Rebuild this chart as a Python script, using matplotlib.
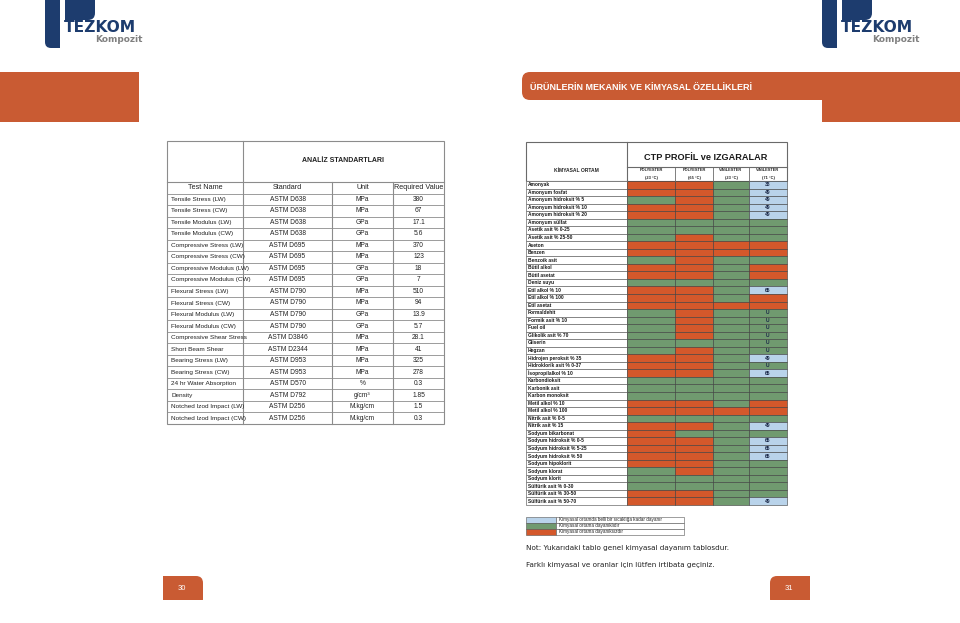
import matplotlib.pyplot as plt
from matplotlib.patches import Rectangle, FancyBboxPatch

plt.rcParams['font.family'] = ['Liberation Sans', 'DejaVu Sans']

# Colours used on the brochure pages
ORANGE = "#c95b33"
CELL_COLORS = {"O": "#d4582b", "G": "#709a6f", "B": "#b9d3ea"}
NAVY = "#1d3c6e"

# Mechanical properties table (left page)
TEST_NAMES = [
    "Tensile Stress (LW)", "Tensile Stress (CW)", "Tensile Modulus (LW)",
    "Tensile Modulus (CW)", "Compressive Stress (LW)", "Compressive Stress (CW)",
    "Compressive Modulus (LW)", "Compressive Modulus (CW)", "Flexural Stress (LW)",
    "Flexural Stress (CW)", "Flexural Modulus (LW)", "Flexural Modulus (CW)",
    "Compressive Shear Stress", "Short Beam Shear", "Bearing Stress (LW)",
    "Bearing Stress (CW)", "24 hr Water Absorption", "Density",
    "Notched Izod Impact (LW)", "Notched Izod Impact (CW)",
]
STANDARDS = [
    "ASTM D638", "ASTM D638", "ASTM D638", "ASTM D638", "ASTM D695",
    "ASTM D695", "ASTM D695", "ASTM D695", "ASTM D790", "ASTM D790",
    "ASTM D790", "ASTM D790", "ASTM D3846", "ASTM D2344", "ASTM D953",
    "ASTM D953", "ASTM D570", "ASTM D792", "ASTM D256", "ASTM D256",
]
UNITS = [
    "MPa", "MPa", "GPa", "GPa", "MPa", "MPa", "GPa", "GPa", "MPa", "MPa",
    "GPa", "GPa", "MPa", "MPa", "MPa", "MPa", "%", "g/cm³", "M.kg/cm", "M.kg/cm",
]
VALUES = [
    "380", "67", "17.1", "5.6", "370", "123", "18", "7", "510", "94",
    "13.9", "5.7", "28.1", "41", "325", "278", "0.3", "1.85", "1.5", "0.3",
]
LEFT_HEADERS = ["Test Name", "Standard", "Unit", "Required Value"]

# Chemical resistance table (right page)
CHEMICALS = [
    "Amonyak", "Amonyum fosfat", "Amonyum hidroksit % 5", "Amonyum hidroksit % 10",
    "Amonyum hidroksit % 20", "Amonyum sülfat", "Asetik asit % 0-25",
    "Asetik asit % 25-50", "Aseton", "Benzen", "Benzoik asit", "Bütil alkol",
    "Bütil asetat", "Deniz suyu", "Etil alkol % 10", "Etil alkol % 100",
    "Etil asetat", "Formaldehit", "Formik asit % 10", "Fuel oil",
    "Glikolik asit % 70", "Gliserin", "Hegzan", "Hidrojen peroksit % 35",
    "Hidroklorik asit % 0-37", "İsopropilalkol % 10", "Karbondioksit",
    "Karbonik asit", "Karbon monoksit", "Metil alkol % 10", "Metil alkol % 100",
    "Nitrik asit % 0-5", "Nitrik asit % 15", "Sodyum bikarbonat",
    "Sodyum hidroksit % 0-5", "Sodyum hidroksit % 5-25", "Sodyum hidroksit % 50",
    "Sodyum hipoklorit", "Sodyum klorat", "Sodyum klorit", "Sülfürik asit % 0-30",
    "Sülfürik asit % 30-50", "Sülfürik asit % 50-70",
]
# O = not resistant, G = resistant, B = resistant up to a temperature
RESISTANCE = [
    "OOGB", "OOGB", "GOGB", "OOGB", "OOGB", "GGGG", "GGGG", "GOGG", "OOOO",
    "OOOO", "GOGG", "OOGO", "OOGO", "GGGG", "OOGB", "OOGO", "OOOO", "GOGG",
    "GOGG", "GOGG", "GOGG", "GGGG", "GOGG", "OOGB", "OOGG", "OOGB", "GGGG",
    "GGGG", "GGGG", "OOGO", "OOOO", "GGGG", "OOGB", "OGGG", "OOGB", "OOGB",
    "OOGB", "OOGG", "GOGG", "GGGG", "GGGG", "OOGG", "OOGB",
]
LAST_COL_LABELS = [
    "38", "49", "49", "49", "49", "", "", "", "", "", "", "", "", "", "65",
    "", "", "U", "U", "U", "U", "U", "U", "49", "U", "65", "", "", "", "",
    "", "", "49", "", "65", "65", "65", "", "", "", "", "", "49",
]
RESIN_NAMES = ["POLYESTER", "POLYESTER", "VİNİLESTER", "VİNİLESTER"]
RESIN_TEMPS = ["(23 °C)", "(65 °C)", "(23 °C)", "(71 °C)"]
LEGEND_KEYS = ["B", "G", "O"]
LEGEND_TEXTS = [
    "Kimyasal ortamda belli bir sıcaklığa kadar dayanır",
    "Kimyasal ortama dayanıklıdır",
    "Kimyasal ortama dayanıksızdır",
]
NOTES = [
    "Not: Yukarıdaki tablo genel kimyasal dayanım tablosdur.",
    "Farklı kimyasal ve oranlar için lütfen irtibata geçiniz.",
]
PAGE_NUMBERS = ["30", "31"]


fig = plt.figure(figsize=(9.6, 6.23), dpi=100)
ax = fig.add_axes([0, 0, 1, 1])
ax.set_xlim(0, 960)
ax.set_ylim(623, 0)
ax.axis('off')


# Logo: a navy block shape with the company name
def draw_logo(x0):
    # left bar, rounded at the bottom left
    ax.add_patch(FancyBboxPatch((x0 + 3, -10), 15, 58, boxstyle="round,pad=0,rounding_size=6",
                                fc=NAVY, ec='none'))
    ax.add_patch(Rectangle((x0 + 10, -10), 8, 58, fc=NAVY, ec='none'))
    ax.add_patch(Rectangle((x0 + 3, -10), 15, 30, fc=NAVY, ec='none'))
    # top right block, rounded on the right
    ax.add_patch(FancyBboxPatch((x0 + 23, -10), 30, 30, boxstyle="round,pad=0,rounding_size=7",
                                fc=NAVY, ec='none'))
    ax.add_patch(Rectangle((x0 + 23, -10), 15, 30, fc=NAVY, ec='none'))
    ax.add_patch(Rectangle((x0 + 23, 20), 75, 20, fc='white', ec='none'))
    ax.text(x0 + 22, 28, "TEZKOM", fontsize=11.2, fontweight='bold', color=NAVY,
            ha='left', va='center', family=['DejaVu Sans'])
    ax.text(x0 + 53, 40, "Kompozit", fontsize=6.5, fontweight='bold', color='#808080',
            ha='left', va='center', family=['DejaVu Sans'])


draw_logo(42)
draw_logo(819)

# Orange header bands
ax.add_patch(Rectangle((0, 72), 139, 50, fc=ORANGE, ec='none'))
ax.add_patch(FancyBboxPatch((522, 72), 460, 28, boxstyle="round,pad=0,rounding_size=8",
                            fc=ORANGE, ec='none'))
ax.add_patch(Rectangle((822, 92), 138, 30, fc=ORANGE, ec='none'))
ax.text(530, 87, "ÜRÜNLERİN MEKANİK VE KİMYASAL ÖZELLİKLERİ", fontsize=6.5,
        fontweight='bold', color='white', ha='left', va='center')

# ---- Left table ----
cols_x = [167, 243, 332, 393, 444]
top = 141
head_bottom = 182
row_h = (424 - head_bottom) / (len(TEST_NAMES) + 1)
grid = '#8c8c8c'

ax.add_patch(Rectangle((cols_x[0], top), cols_x[-1] - cols_x[0], 424 - top,
                       fc='white', ec=grid, lw=0.8))
ax.plot([cols_x[1], cols_x[1]], [top, 424], color=grid, lw=0.8)
ax.plot([cols_x[0], cols_x[-1]], [head_bottom, head_bottom], color=grid, lw=0.8)
ax.text((cols_x[1] + cols_x[-1]) / 2, 161, "ANALİZ STANDARTLARI", fontsize=5,
        fontweight='bold', color='#222222', ha='center', va='center')
for cx in cols_x[2:4]:
    ax.plot([cx, cx], [head_bottom, 424], color=grid, lw=0.8)
for i in range(1, len(TEST_NAMES) + 1):
    y = head_bottom + i * row_h
    ax.plot([cols_x[0], cols_x[-1]], [y, y], color=grid, lw=0.6)

centers = [(cols_x[k] + cols_x[k + 1]) / 2 for k in range(4)]
for k, h in enumerate(LEFT_HEADERS):
    ax.text(centers[k], head_bottom + row_h / 2, h, fontsize=5.2, color='#222222',
            ha='center', va='center')
for i in range(len(TEST_NAMES)):
    yc = head_bottom + (i + 1.5) * row_h
    ax.text(cols_x[0] + 4, yc, TEST_NAMES[i], fontsize=4.6, color='#222222',
            ha='left', va='center')
    ax.text(centers[1], yc, STANDARDS[i], fontsize=4.8, color='#222222', ha='center', va='center')
    ax.text(centers[2], yc, UNITS[i], fontsize=4.8, color='#222222', ha='center', va='center')
    ax.text(centers[3], yc, VALUES[i], fontsize=4.8, color='#222222', ha='center', va='center')

# ---- Right table ----
rx = [526, 627, 675, 713, 749, 787]
rtop = 142
title_bottom = 167
rhead_bottom = 181
rrow_h = (505 - rhead_bottom) / len(CHEMICALS)
dark = '#3c3c3c'

ax.add_patch(Rectangle((rx[0], rtop), rx[-1] - rx[0], rhead_bottom - rtop,
                       fc='white', ec='#6a6a6a', lw=0.8))
ax.plot([rx[1], rx[1]], [rtop, rhead_bottom], color='#6a6a6a', lw=0.8)
ax.plot([rx[1], rx[-1]], [title_bottom, title_bottom], color='#6a6a6a', lw=0.8)
ax.text((rx[1] + rx[-1]) / 2 - 1, 157, "CTP PROFİL ve IZGARALAR", fontsize=6.6,
        fontweight='bold', color='#1a1a1a', ha='center', va='center')
ax.text((rx[0] + rx[1]) / 2, 170, "KİMYASAL ORTAM", fontsize=3.6, fontweight='bold',
        color='#222222', ha='center', va='center')
for k in range(4):
    cx = (rx[k + 1] + rx[k + 2]) / 2
    ax.plot([rx[k + 1], rx[k + 1]], [title_bottom, rhead_bottom], color='#6a6a6a', lw=0.6)
    ax.text(cx, 170, RESIN_NAMES[k], fontsize=2.9, fontweight='bold', color='#222222',
            ha='center', va='center')
    ax.text(cx, 177.5, RESIN_TEMPS[k], fontsize=2.9, fontweight='bold', color='#222222',
            ha='center', va='center')

for i, name in enumerate(CHEMICALS):
    y = rhead_bottom + i * rrow_h
    ax.add_patch(Rectangle((rx[0], y), rx[1] - rx[0], rrow_h, fc='white', ec='#6a6a6a', lw=0.5))
    ax.text(rx[0] + 2, y + rrow_h / 2, name, fontsize=3.5, fontweight='bold',
            color='#1a1a1a', ha='left', va='center')
    for k, code in enumerate(RESISTANCE[i]):
        ax.add_patch(Rectangle((rx[k + 1], y), rx[k + 2] - rx[k + 1], rrow_h,
                               fc=CELL_COLORS[code], ec=dark, lw=0.4))
    if LAST_COL_LABELS[i]:
        ax.text((rx[4] + rx[5]) / 2, y + rrow_h / 2, LAST_COL_LABELS[i], fontsize=3.6,
                fontweight='bold', color='#1d2b4a', ha='center', va='center')

# Legend box
leg_y0 = 517
leg_h = 6
for j, key in enumerate(LEGEND_KEYS):
    y = leg_y0 + j * leg_h
    ax.add_patch(Rectangle((526, y), 30, leg_h, fc=CELL_COLORS[key], ec='#555555', lw=0.4))
    ax.add_patch(Rectangle((556, y), 128, leg_h, fc='white', ec='#555555', lw=0.4))
    ax.text(559, y + leg_h / 2, LEGEND_TEXTS[j], fontsize=3.3, color='#222222',
            ha='left', va='center')

ax.text(526, 548, NOTES[0], fontsize=5.2, color='#222222', ha='left', va='center',
        family=['DejaVu Sans'])
ax.text(526, 565, NOTES[1], fontsize=5.2, color='#222222', ha='left', va='center',
        family=['DejaVu Sans'])

# Page number tabs
for num, x0, sq_side in [(PAGE_NUMBERS[0], 163, 'left'), (PAGE_NUMBERS[1], 770, 'right')]:
    ax.add_patch(FancyBboxPatch((x0, 576), 40, 30, boxstyle="round,pad=0,rounding_size=7",
                                fc=ORANGE, ec='none'))
    if sq_side == 'left':
        ax.add_patch(Rectangle((x0, 576), 20, 30, fc=ORANGE, ec='none'))
    else:
        ax.add_patch(Rectangle((x0 + 20, 576), 20, 30, fc=ORANGE, ec='none'))
    ax.add_patch(Rectangle((x0, 600), 40, 10, fc='white', ec='none'))
    ax.text(x0 + 19, 588, num, fontsize=5.5, color='white', ha='center', va='center')

fig.savefig("out.png", dpi=100)
